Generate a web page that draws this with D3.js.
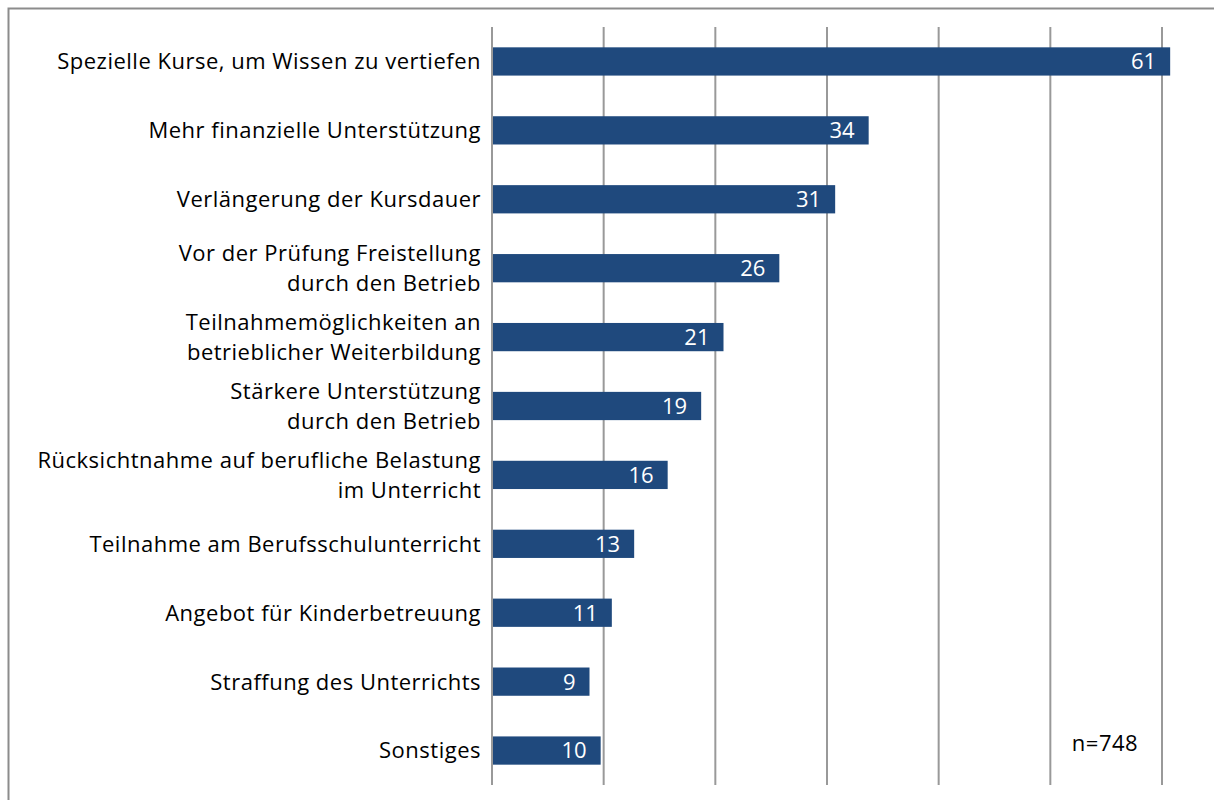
<!DOCTYPE html>
<html>
<head>
<meta charset="utf-8">
<script src="https://cdn.jsdelivr.net/npm/d3@7"></script>
<style>
  body { margin: 0; background: #fff; }
  text { font-family: "Open Sans", "Noto Sans", sans-serif; }
</style>
</head>
<body>
<svg width="1214" height="800"></svg>
<script>
// categories (lines split as in the original) and their percentages
var categories = [
  ["Spezielle Kurse, um Wissen zu vertiefen"],
  ["Mehr finanzielle Unterstützung"],
  ["Verlängerung der Kursdauer"],
  ["Vor der Prüfung Freistellung", "durch den Betrieb"],
  ["Teilnahmemöglichkeiten an", "betrieblicher Weiterbildung"],
  ["Stärkere Unterstützung", "durch den Betrieb"],
  ["Rücksichtnahme auf berufliche Belastung", "im Unterricht"],
  ["Teilnahme am Berufsschulunterricht"],
  ["Angebot für Kinderbetreuung"],
  ["Straffung des Unterrichts"],
  ["Sonstiges"]
];
var values = [61, 34, 31, 26, 21, 19, 16, 13, 11, 9, 10];
var gridTicks = [0, 10, 20, 30, 40, 50, 60];
var note = "n=748";

var svg = d3.select("svg");
var margin = { top: 27, left: 492 };

// outer frame
svg.append("rect")
  .attr("x", 8.5).attr("y", 8.5)
  .attr("width", 1220).attr("height", 820)
  .attr("fill", "none")
  .attr("stroke", "#8c8c8c")
  .attr("stroke-width", 2);

var g = svg.append("g").attr("transform", "translate(" + margin.left + "," + margin.top + ")");

var x = d3.scaleLinear().domain([0, 60]).range([0, 670]);
var y = d3.scaleBand().domain(d3.range(values.length)).range([0, 758]).paddingInner(0.59).paddingOuter(0.295);

// vertical grid lines
g.selectAll(".grid")
  .data(gridTicks)
  .enter().append("line")
  .attr("x1", function(d) { return x(d); })
  .attr("x2", function(d) { return x(d); })
  .attr("y1", 0)
  .attr("y2", 758)
  .attr("stroke", "#999")
  .attr("stroke-width", 2);

// bars
g.selectAll(".bar")
  .data(values)
  .enter().append("rect")
  .attr("x", x(0) + 1)
  .attr("y", function(d, i) { return y(i); })
  .attr("width", function(d) { return x(d) - x(0) - 4; })
  .attr("height", y.bandwidth())
  .attr("fill", "#1f497d");

// value labels
g.selectAll(".val")
  .data(values)
  .enter().append("text")
  .attr("x", function(d) { return x(d) - 17; })
  .attr("y", function(d, i) { return y(i) + y.bandwidth() / 2; })
  .attr("dy", "0.36em")
  .attr("text-anchor", "end")
  .attr("fill", "#fff")
  .style("font-size", "22px")
  .text(function(d) { return d; });

// category labels
var lab = g.selectAll(".lab")
  .data(categories)
  .enter().append("text")
  .attr("text-anchor", "end")
  .attr("fill", "#000")
  .style("font-size", "22px")
  .style("letter-spacing", "0.5px");
lab.each(function(lines, i) {
  var cy = y(i) + y.bandwidth() / 2;
  var start = cy - (lines.length - 1) * 15;
  d3.select(this).selectAll("tspan")
    .data(lines)
    .enter().append("tspan")
    .attr("x", -11)
    .attr("y", function(d, j) { return start + j * 30; })
    .attr("dy", "0.36em")
    .text(function(d) { return d; });
});

// sample size
svg.append("text")
  .attr("x", 1105)
  .attr("y", 743)
  .attr("dy", "0.36em")
  .attr("text-anchor", "middle")
  .style("font-size", "22px")
  .style("letter-spacing", "0.5px")
  .text(note);
</script>
</body>
</html>
